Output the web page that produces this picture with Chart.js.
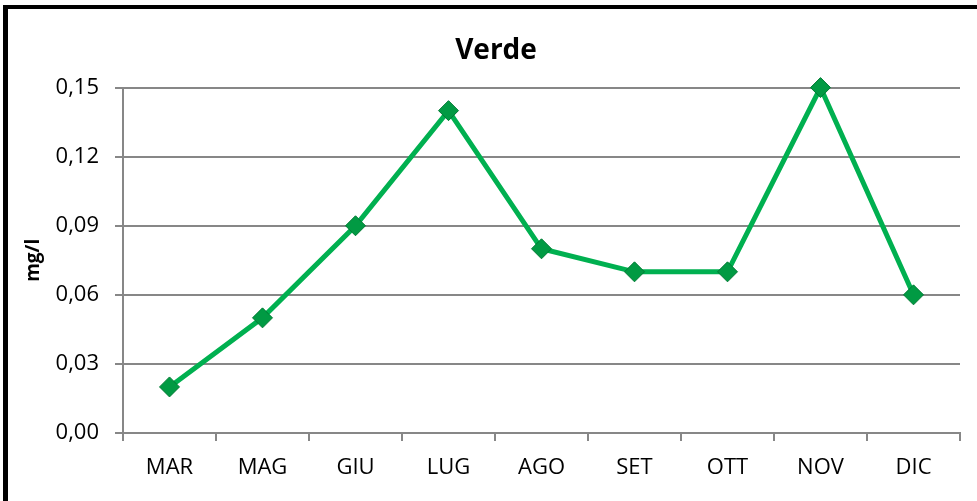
<!DOCTYPE html>
<html>
<head>
<meta charset="utf-8">
<script src="https://cdn.jsdelivr.net/npm/chart.js@4"></script>
<style>
  body { margin: 0; background: #fff; }
  #wrap { position: relative; width: 977px; height: 501px; }
  #frame { position: absolute; left: 3px; top: 5px; right: 0; bottom: 0;
           border-left: 5px solid #000; border-top: 4px solid #000; }
  canvas { position: absolute; left: 0; top: 0; }
</style>
</head>
<body>
<div id="wrap">
  <div id="frame"></div>
  <canvas id="myChart" width="977" height="501"></canvas>
</div>
<script>
const months = ['MAR', 'MAG', 'GIU', 'LUG', 'AGO', 'SET', 'OTT', 'NOV', 'DIC'];
const verde = [0.02, 0.05, 0.09, 0.14, 0.08, 0.07, 0.07, 0.15, 0.06];
const yTicks = [0, 0.03, 0.06, 0.09, 0.12, 0.15];

const fontFamily = "'Open Sans', 'Liberation Sans', sans-serif";

const renderChart = () => {
    const data = {
        labels: months,
        datasets: [{
            label: 'Verde',
            data: verde,
            clip: false,
            borderColor: '#00B050',
            borderWidth: 5,
            backgroundColor: '#00A046',
            pointStyle: 'rectRot',
            pointRadius: 10,
            pointHoverRadius: 10,
            pointBackgroundColor: '#019a43',
            pointBorderColor: '#007a33',
            pointBorderWidth: 1,
            tension: 0
        }]
    };

    const config = {
        type: 'line',
        data: data,
        options: {
            responsive: false,
            animation: false,
            // left padding shifts the title to where the original has it
            layout: { padding: { left: 32, right: 17, top: 0, bottom: 0 } },
            plugins: {
                legend: { display: false },
                tooltip: { enabled: false },
                title: {
                    display: true,
                    text: 'Verde',
                    color: '#000',
                    font: { family: fontFamily, size: 28, weight: 'bold' },
                    padding: { top: 34, bottom: 20 }
                }
            },
            scales: {
                x: {
                    offset: true,
                    grid: { display: true, drawOnChartArea: false, drawTicks: true, tickLength: 8, color: '#878787', lineWidth: 2, offset: true },
                    border: { display: true, color: '#878787', width: 2 },
                    ticks: { color: '#000', font: { family: fontFamily, size: 22 }, padding: 14, maxRotation: 0 },
                    afterFit: s => { s.height = 68; }
                },
                y: {
                    min: 0,
                    max: 0.15,
                    afterBuildTicks: s => { s.ticks = yTicks.map(v => ({ value: v })); },
                    grid: { color: '#878787', lineWidth: 2, tickLength: 8 },
                    border: { display: true, color: '#878787', width: 2 },
                    ticks: {
                        color: '#000',
                        font: { family: fontFamily, size: 22 },
                        padding: 16,
                        callback: v => v.toFixed(2).replace('.', ',')
                    },
                    title: {
                        display: true,
                        text: 'mg/l',
                        color: '#000',
                        font: { family: fontFamily, size: 19, weight: 'bold' },
                        padding: { top: -10, bottom: 0 }
                    },
                    afterFit: s => { s.width = 91; }
                }
            }
        }
    };

    new Chart(document.getElementById('myChart'), config);
};

renderChart();
</script>
</body>
</html>
